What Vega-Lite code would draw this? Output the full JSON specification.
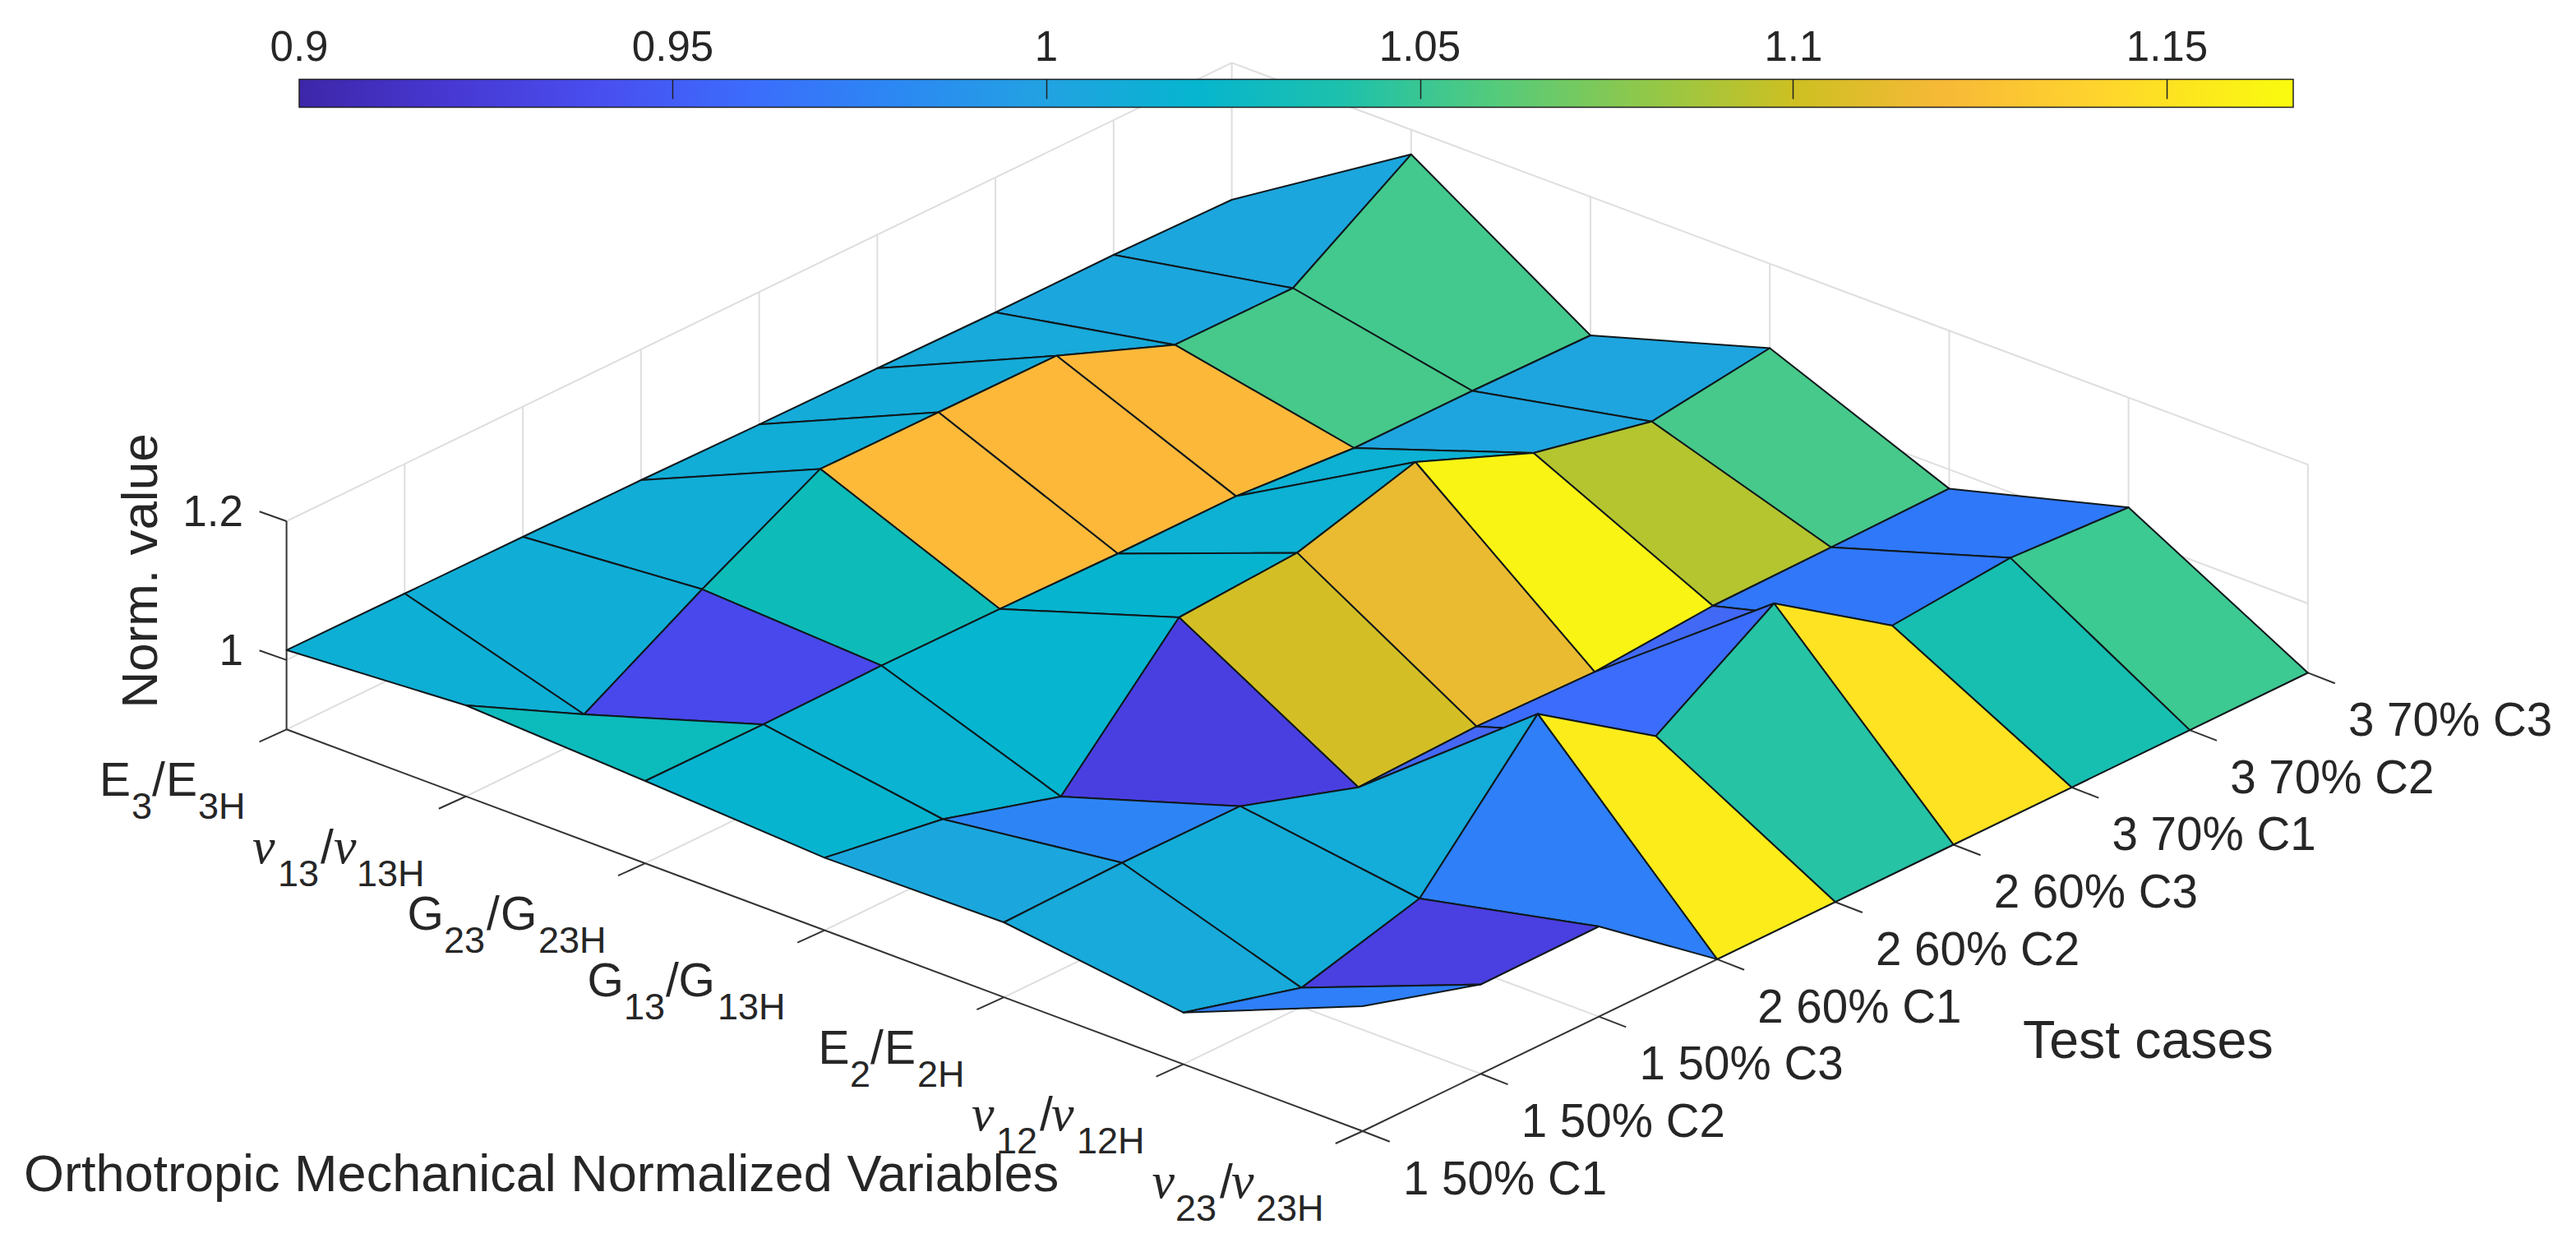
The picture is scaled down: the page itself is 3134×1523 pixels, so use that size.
{"$schema":"https://vega.github.io/schema/vega-lite/v6.json","width":3134,"height":1523,"padding":0,"autosize":{"type":"none"},"background":"white","config":{"view":{"stroke":null},"text":{"font":"Liberation Sans","color":"#262626","baseline":"alphabetic","align":"left"}},
"datasets":{
"grid":[{"u":348.6,"w":887.3,"u2":1498.6,"w2":329.7},{"u":566.8,"w":968.75,"u2":1716.8,"w2":411.15},{"u":785,"w":1050.2,"u2":1935,"w2":492.6},{"u":1003.2,"w":1131.65,"u2":2153.2,"w2":574.05},{"u":1221.4,"w":1213.1,"u2":2371.4,"w2":655.5},{"u":1439.6,"w":1294.55,"u2":2589.6,"w2":736.95},{"u":492.35,"w":817.6,"u2":1801.55,"w2":1306.3},{"u":636.1,"w":747.9,"u2":1945.3,"w2":1236.6},{"u":779.85,"w":678.2,"u2":2089.05,"w2":1166.9},{"u":923.6,"w":608.5,"u2":2232.8,"w2":1097.2},{"u":1067.35,"w":538.8,"u2":2376.55,"w2":1027.5},{"u":1211.1,"w":469.1,"u2":2520.3,"w2":957.8},{"u":1354.85,"w":399.4,"u2":2664.05,"w2":888.1},{"u":1498.6,"w":329.7,"u2":2807.8,"w2":818.4},{"u":492.35,"w":817.6,"u2":492.35,"w2":564.3},{"u":636.1,"w":747.9,"u2":636.1,"w2":494.6},{"u":779.85,"w":678.2,"u2":779.85,"w2":424.9},{"u":923.6,"w":608.5,"u2":923.6,"w2":355.2},{"u":1067.35,"w":538.8,"u2":1067.35,"w2":285.5},{"u":1211.1,"w":469.1,"u2":1211.1,"w2":215.8},{"u":1354.85,"w":399.4,"u2":1354.85,"w2":146.1},{"u":1498.6,"w":329.7,"u2":1498.6,"w2":76.4},{"u":1716.8,"w":411.15,"u2":1716.8,"w2":157.85},{"u":1935,"w":492.6,"u2":1935,"w2":239.3},{"u":2153.2,"w":574.05,"u2":2153.2,"w2":320.75},{"u":2371.4,"w":655.5,"u2":2371.4,"w2":402.2},{"u":2589.6,"w":736.95,"u2":2589.6,"w2":483.65},{"u":2807.8,"w":818.4,"u2":2807.8,"w2":565.1},{"u":348.6,"w":634,"u2":1498.6,"w2":76.4},{"u":1498.6,"w":76.4,"u2":2807.8,"w2":565.1},{"u":348.6,"w":802.9,"u2":1498.6,"w2":245.3},{"u":1498.6,"w":245.3,"u2":2807.8,"w2":734}],
"frame":[{"u":348.6,"w":887.3,"u2":1657.8,"w2":1376},{"u":1657.8,"w":1376,"u2":2807.8,"w2":818.4},{"u":348.6,"w":634,"u2":348.6,"w2":887.3},{"u":348.6,"w":634,"u2":315.6,"w2":622.3},{"u":348.6,"w":802.9,"u2":315.6,"w2":791.2},{"u":348.6,"w":887.3,"u2":315.6,"w2":902.3},{"u":566.8,"w":968.75,"u2":533.8,"w2":983.75},{"u":785,"w":1050.2,"u2":752,"w2":1065.2},{"u":1003.2,"w":1131.65,"u2":970.2,"w2":1146.65},{"u":1221.4,"w":1213.1,"u2":1188.4,"w2":1228.1},{"u":1439.6,"w":1294.55,"u2":1406.6,"w2":1309.55},{"u":1657.8,"w":1376,"u2":1624.8,"w2":1391},{"u":1657.8,"w":1376,"u2":1690.8,"w2":1388.8},{"u":1801.55,"w":1306.3,"u2":1834.55,"w2":1319.1},{"u":1945.3,"w":1236.6,"u2":1978.3,"w2":1249.4},{"u":2089.05,"w":1166.9,"u2":2122.05,"w2":1179.7},{"u":2232.8,"w":1097.2,"u2":2265.8,"w2":1110},{"u":2376.55,"w":1027.5,"u2":2409.55,"w2":1040.3},{"u":2520.3,"w":957.8,"u2":2553.3,"w2":970.6},{"u":2664.05,"w":888.1,"u2":2697.05,"w2":900.9},{"u":2807.8,"w":818.4,"u2":2840.8,"w2":831.2}],
"surface":[
{"quad":"c7v0","k":0,"u":1354.85,"w":310,"z":1.004},{"quad":"c7v0","k":1,"u":1498.6,"w":243,"z":1.004},{"quad":"c7v0","k":2,"u":1716.8,"w":187.8,"z":1.004},{"quad":"c7v0","k":3,"u":1573,"w":350.5,"z":1.004},
{"quad":"c7v1","k":0,"u":1573,"w":350.5,"z":1.054},{"quad":"c7v1","k":1,"u":1716.8,"w":187.8,"z":1.054},{"quad":"c7v1","k":2,"u":1935,"w":408,"z":1.054},{"quad":"c7v1","k":3,"u":1791.25,"w":475.5,"z":1.054},
{"quad":"c7v2","k":0,"u":1791.25,"w":475.5,"z":1.003},{"quad":"c7v2","k":1,"u":1935,"w":408,"z":1.003},{"quad":"c7v2","k":2,"u":2153.2,"w":423.5,"z":1.003},{"quad":"c7v2","k":3,"u":2009.45,"w":512.8,"z":1.003},
{"quad":"c7v3","k":0,"u":2009.45,"w":512.8,"z":1.055},{"quad":"c7v3","k":1,"u":2153.2,"w":423.5,"z":1.055},{"quad":"c7v3","k":2,"u":2371.4,"w":594.4,"z":1.055},{"quad":"c7v3","k":3,"u":2227.65,"w":665.8,"z":1.055},
{"quad":"c7v4","k":0,"u":2227.65,"w":665.8,"z":0.97},{"quad":"c7v4","k":1,"u":2371.4,"w":594.4,"z":0.97},{"quad":"c7v4","k":2,"u":2589.6,"w":617.3,"z":0.97},{"quad":"c7v4","k":3,"u":2445.85,"w":678.6,"z":0.97},
{"quad":"c7v5","k":0,"u":2445.85,"w":678.6,"z":1.052},{"quad":"c7v5","k":1,"u":2589.6,"w":617.3,"z":1.052},{"quad":"c7v5","k":2,"u":2807.8,"w":818.4,"z":1.052},{"quad":"c7v5","k":3,"u":2664.05,"w":888.1,"z":1.052},
{"quad":"c6v0","k":0,"u":1211.1,"w":380,"z":1.004},{"quad":"c6v0","k":1,"u":1354.85,"w":310,"z":1.004},{"quad":"c6v0","k":2,"u":1573,"w":350.5,"z":1.004},{"quad":"c6v0","k":3,"u":1429.3,"w":419.4,"z":1.004},
{"quad":"c6v1","k":0,"u":1429.3,"w":419.4,"z":1.055},{"quad":"c6v1","k":1,"u":1573,"w":350.5,"z":1.055},{"quad":"c6v1","k":2,"u":1791.25,"w":475.5,"z":1.055},{"quad":"c6v1","k":3,"u":1647.5,"w":545,"z":1.055},
{"quad":"c6v2","k":0,"u":1647.5,"w":545,"z":1.003},{"quad":"c6v2","k":1,"u":1791.25,"w":475.5,"z":1.003},{"quad":"c6v2","k":2,"u":2009.45,"w":512.8,"z":1.003},{"quad":"c6v2","k":3,"u":1865.7,"w":551,"z":1.003},
{"quad":"c6v3","k":0,"u":1865.7,"w":551,"z":1.092},{"quad":"c6v3","k":1,"u":2009.45,"w":512.8,"z":1.092},{"quad":"c6v3","k":2,"u":2227.65,"w":665.8,"z":1.092},{"quad":"c6v3","k":3,"u":2083.9,"w":737,"z":1.092},
{"quad":"c6v4","k":0,"u":2083.9,"w":737,"z":0.969},{"quad":"c6v4","k":1,"u":2227.65,"w":665.8,"z":0.969},{"quad":"c6v4","k":2,"u":2445.85,"w":678.6,"z":0.969},{"quad":"c6v4","k":3,"u":2302.1,"w":761,"z":0.969},
{"quad":"c6v5","k":0,"u":2302.1,"w":761,"z":1.037},{"quad":"c6v5","k":1,"u":2445.85,"w":678.6,"z":1.037},{"quad":"c6v5","k":2,"u":2664.05,"w":888.1,"z":1.037},{"quad":"c6v5","k":3,"u":2520.3,"w":957.8,"z":1.037},
{"quad":"c5v0","k":0,"u":1067.35,"w":448,"z":1.008},{"quad":"c5v0","k":1,"u":1211.1,"w":380,"z":1.008},{"quad":"c5v0","k":2,"u":1429.3,"w":419.4,"z":1.008},{"quad":"c5v0","k":3,"u":1285.55,"w":432.7,"z":1.008},
{"quad":"c5v1","k":0,"u":1285.55,"w":432.7,"z":1.122},{"quad":"c5v1","k":1,"u":1429.3,"w":419.4,"z":1.122},{"quad":"c5v1","k":2,"u":1647.5,"w":545,"z":1.122},{"quad":"c5v1","k":3,"u":1503.75,"w":603.6,"z":1.122},
{"quad":"c5v2","k":0,"u":1503.75,"w":603.6,"z":1.016},{"quad":"c5v2","k":1,"u":1647.5,"w":545,"z":1.016},{"quad":"c5v2","k":2,"u":1865.7,"w":551,"z":1.016},{"quad":"c5v2","k":3,"u":1722,"w":562,"z":1.016},
{"quad":"c5v3","k":0,"u":1722,"w":562,"z":1.162},{"quad":"c5v3","k":1,"u":1865.7,"w":551,"z":1.162},{"quad":"c5v3","k":2,"u":2083.9,"w":737,"z":1.162},{"quad":"c5v3","k":3,"u":1940.15,"w":817.4,"z":1.162},
{"quad":"c5v4","k":0,"u":1940.15,"w":817.4,"z":0.956},{"quad":"c5v4","k":1,"u":2083.9,"w":737,"z":0.956},{"quad":"c5v4","k":2,"u":2302.1,"w":761,"z":0.956},{"quad":"c5v4","k":3,"u":2158.35,"w":734,"z":0.956},
{"quad":"c5v5","k":0,"u":2158.35,"w":734,"z":1.151},{"quad":"c5v5","k":1,"u":2302.1,"w":761,"z":1.151},{"quad":"c5v5","k":2,"u":2520.3,"w":957.8,"z":1.151},{"quad":"c5v5","k":3,"u":2376.55,"w":1027.5,"z":1.151},
{"quad":"c4v0","k":0,"u":923.6,"w":516.3,"z":1.009},{"quad":"c4v0","k":1,"u":1067.35,"w":448,"z":1.009},{"quad":"c4v0","k":2,"u":1285.55,"w":432.7,"z":1.009},{"quad":"c4v0","k":3,"u":1141.8,"w":501.5,"z":1.009},
{"quad":"c4v1","k":0,"u":1141.8,"w":501.5,"z":1.123},{"quad":"c4v1","k":1,"u":1285.55,"w":432.7,"z":1.123},{"quad":"c4v1","k":2,"u":1503.75,"w":603.6,"z":1.123},{"quad":"c4v1","k":3,"u":1360,"w":673.5,"z":1.123},
{"quad":"c4v2","k":0,"u":1360,"w":673.5,"z":1.016},{"quad":"c4v2","k":1,"u":1503.75,"w":603.6,"z":1.016},{"quad":"c4v2","k":2,"u":1722,"w":562,"z":1.016},{"quad":"c4v2","k":3,"u":1578.2,"w":672.4,"z":1.016},
{"quad":"c4v3","k":0,"u":1578.2,"w":672.4,"z":1.114},{"quad":"c4v3","k":1,"u":1722,"w":562,"z":1.114},{"quad":"c4v3","k":2,"u":1940.15,"w":817.4,"z":1.114},{"quad":"c4v3","k":3,"u":1796.4,"w":883.7,"z":1.114},
{"quad":"c4v4","k":0,"u":1796.4,"w":883.7,"z":0.96},{"quad":"c4v4","k":1,"u":1940.15,"w":817.4,"z":0.96},{"quad":"c4v4","k":2,"u":2158.35,"w":734,"z":0.96},{"quad":"c4v4","k":3,"u":2014.6,"w":895.4,"z":0.96},
{"quad":"c4v5","k":0,"u":2014.6,"w":895.4,"z":1.043},{"quad":"c4v5","k":1,"u":2158.35,"w":734,"z":1.043},{"quad":"c4v5","k":2,"u":2376.55,"w":1027.5,"z":1.043},{"quad":"c4v5","k":3,"u":2232.8,"w":1097.2,"z":1.043},
{"quad":"c3v0","k":0,"u":779.85,"w":584,"z":1.012},{"quad":"c3v0","k":1,"u":923.6,"w":516.3,"z":1.012},{"quad":"c3v0","k":2,"u":1141.8,"w":501.5,"z":1.012},{"quad":"c3v0","k":3,"u":998,"w":570.4,"z":1.012},
{"quad":"c3v1","k":0,"u":998,"w":570.4,"z":1.124},{"quad":"c3v1","k":1,"u":1141.8,"w":501.5,"z":1.124},{"quad":"c3v1","k":2,"u":1360,"w":673.5,"z":1.124},{"quad":"c3v1","k":3,"u":1216.25,"w":740.8,"z":1.124},
{"quad":"c3v2","k":0,"u":1216.25,"w":740.8,"z":1.019},{"quad":"c3v2","k":1,"u":1360,"w":673.5,"z":1.019},{"quad":"c3v2","k":2,"u":1578.2,"w":672.4,"z":1.019},{"quad":"c3v2","k":3,"u":1434.45,"w":751,"z":1.019},
{"quad":"c3v3","k":0,"u":1434.45,"w":751,"z":1.103},{"quad":"c3v3","k":1,"u":1578.2,"w":672.4,"z":1.103},{"quad":"c3v3","k":2,"u":1796.4,"w":883.7,"z":1.103},{"quad":"c3v3","k":3,"u":1652.65,"w":957.7,"z":1.103},
{"quad":"c3v4","k":0,"u":1652.65,"w":957.7,"z":0.955},{"quad":"c3v4","k":1,"u":1796.4,"w":883.7,"z":0.955},{"quad":"c3v4","k":2,"u":2014.6,"w":895.4,"z":0.955},{"quad":"c3v4","k":3,"u":1870.85,"w":868.4,"z":0.955},
{"quad":"c3v5","k":0,"u":1870.85,"w":868.4,"z":1.157},{"quad":"c3v5","k":1,"u":2014.6,"w":895.4,"z":1.157},{"quad":"c3v5","k":2,"u":2232.8,"w":1097.2,"z":1.157},{"quad":"c3v5","k":3,"u":2089.05,"w":1166.9,"z":1.157},
{"quad":"c2v0","k":0,"u":636.1,"w":653,"z":1.012},{"quad":"c2v0","k":1,"u":779.85,"w":584,"z":1.012},{"quad":"c2v0","k":2,"u":998,"w":570.4,"z":1.012},{"quad":"c2v0","k":3,"u":854.3,"w":716.8,"z":1.012},
{"quad":"c2v1","k":0,"u":854.3,"w":716.8,"z":1.033},{"quad":"c2v1","k":1,"u":998,"w":570.4,"z":1.033},{"quad":"c2v1","k":2,"u":1216.25,"w":740.8,"z":1.033},{"quad":"c2v1","k":3,"u":1072.5,"w":809.7,"z":1.033},
{"quad":"c2v2","k":0,"u":1072.5,"w":809.7,"z":1.02},{"quad":"c2v2","k":1,"u":1216.25,"w":740.8,"z":1.02},{"quad":"c2v2","k":2,"u":1434.45,"w":751,"z":1.02},{"quad":"c2v2","k":3,"u":1290.7,"w":969,"z":1.02},
{"quad":"c2v3","k":0,"u":1290.7,"w":969,"z":0.928},{"quad":"c2v3","k":1,"u":1434.45,"w":751,"z":0.928},{"quad":"c2v3","k":2,"u":1652.65,"w":957.7,"z":0.928},{"quad":"c2v3","k":3,"u":1508.9,"w":980.7,"z":0.928},
{"quad":"c2v4","k":0,"u":1508.9,"w":980.7,"z":1.01},{"quad":"c2v4","k":1,"u":1652.65,"w":957.7,"z":1.01},{"quad":"c2v4","k":2,"u":1870.85,"w":868.4,"z":1.01},{"quad":"c2v4","k":3,"u":1727.1,"w":1093,"z":1.01},
{"quad":"c2v5","k":0,"u":1727.1,"w":1093,"z":0.974},{"quad":"c2v5","k":1,"u":1870.85,"w":868.4,"z":0.974},{"quad":"c2v5","k":2,"u":2089.05,"w":1166.9,"z":0.974},{"quad":"c2v5","k":3,"u":1945.3,"w":1127,"z":0.974},
{"quad":"c1v0","k":0,"u":492.35,"w":722,"z":1.013},{"quad":"c1v0","k":1,"u":636.1,"w":653,"z":1.013},{"quad":"c1v0","k":2,"u":854.3,"w":716.8,"z":1.013},{"quad":"c1v0","k":3,"u":710.55,"w":869,"z":1.013},
{"quad":"c1v1","k":0,"u":710.55,"w":869,"z":0.9355},{"quad":"c1v1","k":1,"u":854.3,"w":716.8,"z":0.9355},{"quad":"c1v1","k":2,"u":1072.5,"w":809.7,"z":0.9355},{"quad":"c1v1","k":3,"u":928.75,"w":881.2,"z":0.9355},
{"quad":"c1v2","k":0,"u":928.75,"w":881.2,"z":1.018},{"quad":"c1v2","k":1,"u":1072.5,"w":809.7,"z":1.018},{"quad":"c1v2","k":2,"u":1290.7,"w":969,"z":1.018},{"quad":"c1v2","k":3,"u":1147,"w":996.5,"z":1.018},
{"quad":"c1v3","k":0,"u":1147,"w":996.5,"z":0.978},{"quad":"c1v3","k":1,"u":1290.7,"w":969,"z":0.978},{"quad":"c1v3","k":2,"u":1508.9,"w":980.7,"z":0.978},{"quad":"c1v3","k":3,"u":1365.15,"w":1049.5,"z":0.978},
{"quad":"c1v4","k":0,"u":1365.15,"w":1049.5,"z":1.011},{"quad":"c1v4","k":1,"u":1508.9,"w":980.7,"z":1.011},{"quad":"c1v4","k":2,"u":1727.1,"w":1093,"z":1.011},{"quad":"c1v4","k":3,"u":1583.35,"w":1201.6,"z":1.011},
{"quad":"c1v5","k":0,"u":1583.35,"w":1201.6,"z":0.9275},{"quad":"c1v5","k":1,"u":1727.1,"w":1093,"z":0.9275},{"quad":"c1v5","k":2,"u":1945.3,"w":1127,"z":0.9275},{"quad":"c1v5","k":3,"u":1801.55,"w":1197.5,"z":0.9275},
{"quad":"c0v0","k":0,"u":348.6,"w":790.8,"z":1.014},{"quad":"c0v0","k":1,"u":492.35,"w":722,"z":1.014},{"quad":"c0v0","k":2,"u":710.55,"w":869,"z":1.014},{"quad":"c0v0","k":3,"u":566.8,"w":858,"z":1.014},
{"quad":"c0v1","k":0,"u":566.8,"w":858,"z":1.031},{"quad":"c0v1","k":1,"u":710.55,"w":869,"z":1.031},{"quad":"c0v1","k":2,"u":928.75,"w":881.2,"z":1.031},{"quad":"c0v1","k":3,"u":785,"w":950,"z":1.031},
{"quad":"c0v2","k":0,"u":785,"w":950,"z":1.019},{"quad":"c0v2","k":1,"u":928.75,"w":881.2,"z":1.019},{"quad":"c0v2","k":2,"u":1147,"w":996.5,"z":1.019},{"quad":"c0v2","k":3,"u":1003.2,"w":1043.4,"z":1.019},
{"quad":"c0v3","k":0,"u":1003.2,"w":1043.4,"z":1.005},{"quad":"c0v3","k":1,"u":1147,"w":996.5,"z":1.005},{"quad":"c0v3","k":2,"u":1365.15,"w":1049.5,"z":1.005},{"quad":"c0v3","k":3,"u":1221.4,"w":1122,"z":1.005},
{"quad":"c0v4","k":0,"u":1221.4,"w":1122,"z":1.008},{"quad":"c0v4","k":1,"u":1365.15,"w":1049.5,"z":1.008},{"quad":"c0v4","k":2,"u":1583.35,"w":1201.6,"z":1.008},{"quad":"c0v4","k":3,"u":1439.6,"w":1231.7,"z":1.008},
{"quad":"c0v5","k":0,"u":1439.6,"w":1231.7,"z":0.974},{"quad":"c0v5","k":1,"u":1583.35,"w":1201.6,"z":0.974},{"quad":"c0v5","k":2,"u":1801.55,"w":1197.5,"z":0.974},{"quad":"c0v5","k":3,"u":1657.8,"w":1224,"z":0.974}
],
"titles":[{"label":"Orthotropic Mechanical Normalized Variables","u":29,"w":1448.5}],
"titles2":[{"label":"Test cases","u":2461,"w":1286.8}],
"cases":[{"label":"1 50% C1","u":1707,"w":1452.6},{"label":"1 50% C2","u":1850.75,"w":1382.9},{"label":"1 50% C3","u":1994.5,"w":1313.2},{"label":"2 60% C1","u":2138.25,"w":1243.5},{"label":"2 60% C2","u":2282,"w":1173.8},{"label":"2 60% C3","u":2425.75,"w":1104.1},{"label":"3 70% C1","u":2569.5,"w":1034.4},{"label":"3 70% C2","u":2713.25,"w":964.7},{"label":"3 70% C3","u":2857,"w":895}],
"ztick":[{"label":"1.2","u":296,"w":640},{"label":"1","u":296,"w":808.7}],
"zlabel":[{"label":"Norm. value","u":191,"w":694.5}],
"base":[{"label":"E","u":121,"w":968},{"label":"/","u":185,"w":968},{"label":"E","u":202,"w":968},{"label":"/","u":390,"w":1049.5},{"label":"G","u":495.5,"w":1131},{"label":"/","u":592,"w":1131},{"label":"G","u":609,"w":1131},{"label":"G","u":714.5,"w":1212.4},{"label":"/","u":810,"w":1212.4},{"label":"G","u":825.5,"w":1212.4},{"label":"E","u":995.5,"w":1293.8},{"label":"/","u":1059,"w":1293.8},{"label":"E","u":1076,"w":1293.8},{"label":"/","u":1265,"w":1375},{"label":"/","u":1484,"w":1456.7}],
"sub":[{"label":"3","u":160,"w":996},{"label":"3H","u":241,"w":996},{"label":"13","u":338,"w":1077.5},{"label":"13H","u":434,"w":1077.5},{"label":"23","u":540,"w":1159},{"label":"23H","u":655,"w":1159},{"label":"13","u":759,"w":1240.4},{"label":"13H","u":873,"w":1240.4},{"label":"2","u":1034,"w":1321.8},{"label":"2H","u":1116,"w":1321.8},{"label":"12","u":1212,"w":1403},{"label":"12H","u":1310,"w":1403},{"label":"23","u":1430,"w":1484.7},{"label":"23H","u":1528,"w":1484.7}],
"greek":[{"label":"ν","u":307,"w":1049.5},{"label":"ν","u":406,"w":1049.5},{"label":"ν","u":1182,"w":1375},{"label":"ν","u":1279,"w":1375},{"label":"ν","u":1401.5,"w":1456.7},{"label":"ν","u":1498,"w":1456.7}]
},
"encoding":{
"x":{"field":"u","type":"quantitative","scale":{"domain":[0,3134],"nice":false,"zero":false},"axis":{"orient":"top","offset":-120,"values":[818,1273,1727.5,2180.6,2636],"labels":false,"domain":false,"grid":false,"ticks":true,"tickSize":24,"tickColor":"#222222","tickWidth":1.5,"title":null,"zindex":1}},
"y":{"field":"w","type":"quantitative","scale":{"domain":[1523,0],"nice":false,"zero":false},"axis":null}
},
"layer":[
{"data":{"name":"grid"},"mark":{"type":"rule","color":"#dedede","strokeWidth":2},"encoding":{"x2":{"field":"u2"},"y2":{"field":"w2"}}},
{"data":{"name":"frame"},"mark":{"type":"rule","color":"#333333","strokeWidth":2},"encoding":{"x2":{"field":"u2"},"y2":{"field":"w2"}}},
{"data":{"name":"surface"},"mark":{"type":"line","interpolate":"linear-closed","filled":true,"stroke":"#10181c","strokeWidth":2,"strokeJoin":"round"},"encoding":{"detail":{"field":"quad"},"order":{"field":"k","type":"quantitative"},"fill":{"field":"z","type":"quantitative","scale":{"domain":[0.9,0.925,0.9355,0.945,0.955,0.96,0.97,0.978,1,1.02,1.033,1.05,1.065,1.09,1.1,1.123,1.14,1.1669],"range":["#3d26a8","#4a3cdc","#4848ec","#4a55f2","#4468f5","#3c6cfc","#2f78fa","#2d85f5","#22a2e2","#06b5cf","#0dbcb8","#37c898","#63cc6e","#aec632","#cdc022","#fdb83a","#ffd32e","#f9fb0e"],"interpolate":"rgb"},"legend":{"title":null,"orient":"none","legendX":364,"legendY":96.5,"direction":"horizontal","gradientLength":2426,"gradientThickness":34,"gradientStrokeColor":"#222222","gradientStrokeWidth":1.5,"values":[0.9,0.95,1,1.05,1.1,1.15],"format":".3~f","labelFont":"Liberation Sans","labelFontSize":51,"labelColor":"#262626","labelAlign":"center","labelBaseline":"alphabetic","labelOffset":-97,"labelOverlap":false,"padding":0,"encode":{"labels":{"update":{"align":{"value":"center"}}}}}}}},
{"data":{"name":"titles"},"mark":{"type":"text","fontSize":63},"encoding":{"text":{"field":"label"}}},
{"data":{"name":"titles2"},"mark":{"type":"text","fontSize":64.5},"encoding":{"text":{"field":"label"}}},
{"data":{"name":"cases"},"mark":{"type":"text","fontSize":56.5},"encoding":{"text":{"field":"label"}}},
{"data":{"name":"ztick"},"mark":{"type":"text","fontSize":53,"align":"right"},"encoding":{"text":{"field":"label"}}},
{"data":{"name":"zlabel"},"mark":{"type":"text","fontSize":62,"angle":270,"align":"center"},"encoding":{"text":{"field":"label"}}},
{"data":{"name":"base"},"mark":{"type":"text","fontSize":57},"encoding":{"text":{"field":"label"}}},
{"data":{"name":"sub"},"mark":{"type":"text","fontSize":45},"encoding":{"text":{"field":"label"}}},
{"data":{"name":"greek"},"mark":{"type":"text","fontSize":62,"font":"Liberation Serif","fontStyle":"italic"},"encoding":{"text":{"field":"label"}}}
]}
